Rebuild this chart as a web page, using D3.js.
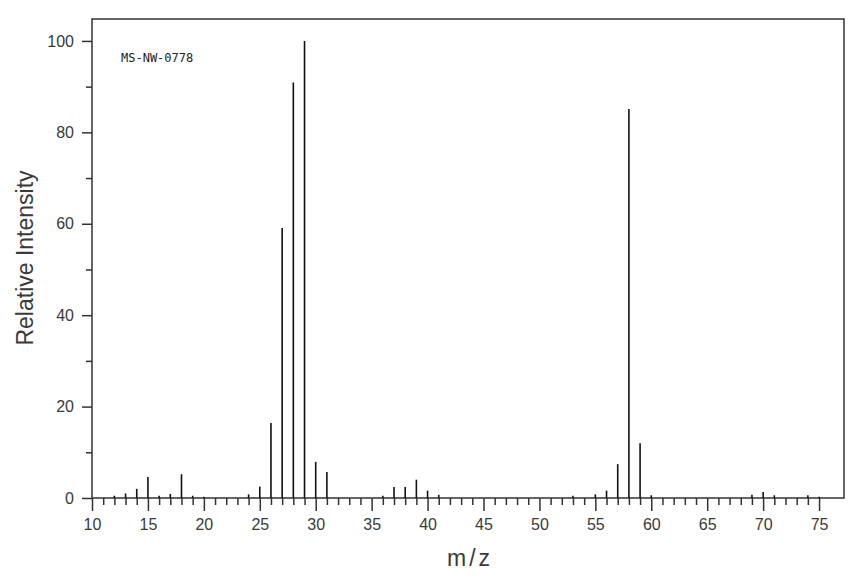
<!DOCTYPE html>
<html>
<head>
<meta charset="utf-8">
<script src="https://cdn.jsdelivr.net/npm/d3@7"></script>
<style>
  html, body { margin: 0; padding: 0; background: #fff; }
  svg { display: block; }
</style>
</head>
<body>
<svg id="chart" width="868" height="581"></svg>
<script>
// m/z values and relative intensities
const mzValues = [12, 13, 14, 15, 16, 17, 18, 19, 20, 24, 25, 26, 27, 28, 29, 30, 31,
                  36, 37, 38, 39, 40, 41, 53, 55, 56, 57, 58, 59, 60, 69, 70, 71, 74, 75];
const intensities = [0.5, 1.0, 2.0, 4.6, 0.5, 0.9, 5.2, 0.5, 0.3, 0.8, 2.5, 16.4, 59.1, 90.9, 100, 7.9, 5.7,
                     0.5, 2.4, 2.4, 4.0, 1.6, 0.7, 0.5, 0.8, 1.6, 7.4, 85.1, 12.0, 0.6, 0.7, 1.3, 0.6, 0.6, 0.3];
const xMajorTicks = [10, 15, 20, 25, 30, 35, 40, 45, 50, 55, 60, 65, 70, 75];
const yMajorTicks = [0, 20, 40, 60, 80, 100];
const yMinorTicks = [10, 30, 50, 70, 90];
const sampleLabel = "MS-NW-0778";
const xTitle = "m/z";
const yTitle = "Relative Intensity";

const peaks = mzValues.map((m, i) => ({ mz: m, v: intensities[i] }));

const svg = d3.select("#chart");
const plotL = 92, plotR = 844, plotT = 19, plotB = 498;

const x = d3.scaleLinear().domain([10, 77.23]).range([plotL, plotR]);
const y = d3.scaleLinear().domain([0, 104.8]).range([plotB, plotT]);

const ink = "#333";
const sans = "'Liberation Sans', Arial, sans-serif";

// frame
svg.append("rect")
  .attr("x", plotL).attr("y", plotT)
  .attr("width", plotR - plotL).attr("height", plotB - plotT)
  .attr("fill", "none").attr("stroke", ink).attr("stroke-width", 1.5);

// x axis: minor ticks every unit, major every 5
const xMinor = d3.range(10, 76, 1).filter(d => d % 5 !== 0);
const xAxisMinor = d3.axisBottom(x).tickValues(xMinor).tickSize(7).tickFormat("");
const xAxisMajor = d3.axisBottom(x).tickValues(xMajorTicks).tickSize(13).tickPadding(8).tickFormat(d3.format("d"));

const gxMinor = svg.append("g").attr("transform", `translate(0,${plotB})`).call(xAxisMinor);
const gxMajor = svg.append("g").attr("transform", `translate(0,${plotB})`).call(xAxisMajor);
[gxMinor, gxMajor].forEach(g => {
  g.select(".domain").remove();
  g.selectAll(".tick line").attr("stroke", ink).attr("stroke-width", 1.5);
});
gxMajor.selectAll(".tick text")
  .style("font-family", sans).style("font-size", "16px").attr("fill", "#3a3a3a");

// y axis
const yAxisMinor = d3.axisLeft(y).tickValues(yMinorTicks).tickSize(6).tickFormat("");
const yAxisMajor = d3.axisLeft(y).tickValues(yMajorTicks).tickSize(10).tickPadding(8).tickFormat(d3.format("d"));
const gyMinor = svg.append("g").attr("transform", `translate(${plotL},0)`).call(yAxisMinor);
const gyMajor = svg.append("g").attr("transform", `translate(${plotL},0)`).call(yAxisMajor);
[gyMinor, gyMajor].forEach(g => {
  g.select(".domain").remove();
  g.selectAll(".tick line").attr("stroke", ink).attr("stroke-width", 1.5);
});
gyMajor.selectAll(".tick text")
  .style("font-family", sans).style("font-size", "16px").attr("fill", "#3a3a3a");

// peaks
svg.append("g").selectAll("line.peak")
  .data(peaks)
  .join("line")
  .attr("class", "peak")
  .attr("x1", d => x(d.mz)).attr("x2", d => x(d.mz))
  .attr("y1", y(0)).attr("y2", d => y(d.v))
  .attr("stroke", "#111").attr("stroke-width", 1.6);

// sample label
svg.append("text")
  .attr("x", 121).attr("y", 62)
  .style("font-family", "'DejaVu Sans Mono', 'Liberation Mono', monospace")
  .style("font-size", "12px")
  .attr("fill", "#222")
  .text(sampleLabel);

// axis titles
svg.append("text")
  .attr("x", (plotL + plotR) / 2 + 2).attr("y", 566)
  .attr("text-anchor", "middle")
  .style("font-family", sans).style("font-size", "23px")
  .style("letter-spacing", "3px")
  .attr("fill", "#3a3a3a")
  .text(xTitle);

svg.append("text")
  .attr("transform", `translate(33,258) rotate(-90)`)
  .attr("text-anchor", "middle")
  .style("font-family", sans).style("font-size", "23px")
  .attr("fill", "#3a3a3a")
  .text(yTitle);
</script>
</body>
</html>
